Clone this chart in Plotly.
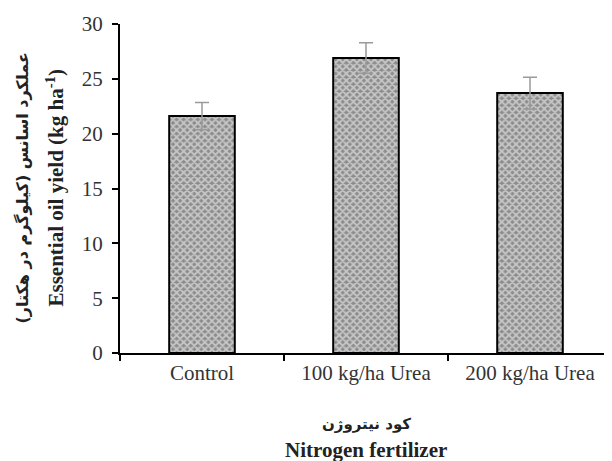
import plotly.graph_objects as go

categories = ["Control", "100 kg/ha Urea", "200 kg/ha Urea"]
values = [21.6, 26.9, 23.7]
errors = [1.25, 1.4, 1.45]
y_ticks = [0, 5, 10, 15, 20, 25, 30]

serif = "Liberation Serif, Times New Roman, serif"

fig = go.Figure()
fig.add_trace(go.Bar(
    x=categories, y=values, width=0.4,
    marker=dict(
        color="#999999",
        line=dict(color="black", width=2),
        pattern=dict(shape="x", fgcolor="#ffffff", bgcolor="#8c8c8c", size=5, solidity=0.6),
    ),
    error_y=dict(type="data", array=errors, color="#9a9a9a", thickness=1.5, width=7),
))

fig.update_layout(
    width=604, height=453,
    margin=dict(l=112, r=0, t=16, b=108),
    plot_bgcolor="white", paper_bgcolor="white",
    showlegend=False,
    font=dict(family=serif, size=21, color="#333"),
    xaxis=dict(
        showline=True, linecolor="black", linewidth=2,
        ticks="outside", tickson="boundaries", ticklen=6, tickcolor="black", tickwidth=2,
        range=[-0.5, 2.5], tickfont=dict(family=serif, size=21, color="#333"),
    ),
    yaxis=dict(
        range=[0, 30], tickvals=y_ticks, showline=True, linecolor="black", linewidth=2,
        ticks="outside", ticklen=6, tickcolor="black", tickwidth=2, showgrid=False,
        zeroline=False, ticklabelstandoff=5, tickfont=dict(family=serif, size=21, color="#333"),
    ),
    annotations=[
        dict(text="<b>عملکرد اسانس (کیلوگرم در هکتار)</b>", xref="paper", yref="paper",
             x=0, y=0.5, xanchor="center", yanchor="middle", xshift=-98, textangle=-90,
             showarrow=False, font=dict(family="DejaVu Sans", size=16, color="#222")),
        dict(text="<b>Essential oil yield (kg ha<sup>-1</sup>)</b>", xref="paper", yref="paper",
             x=0, y=0.5, xanchor="center", yanchor="middle", xshift=-65, textangle=-90,
             showarrow=False, font=dict(family=serif, size=21, color="#222")),
        dict(text="<b>کود نیتروژن</b>", xref="paper", yref="paper",
             x=0.5, y=0, xanchor="center", yanchor="middle", yshift=-71,
             showarrow=False, font=dict(family="DejaVu Sans", size=15, color="#222")),
        dict(text="<b>Nitrogen fertilizer</b>", xref="paper", yref="paper",
             x=0.5, y=0, xanchor="center", yanchor="middle", yshift=-97,
             showarrow=False, font=dict(family=serif, size=21, color="#222")),
    ],
)

fig.write_html("out.html")
